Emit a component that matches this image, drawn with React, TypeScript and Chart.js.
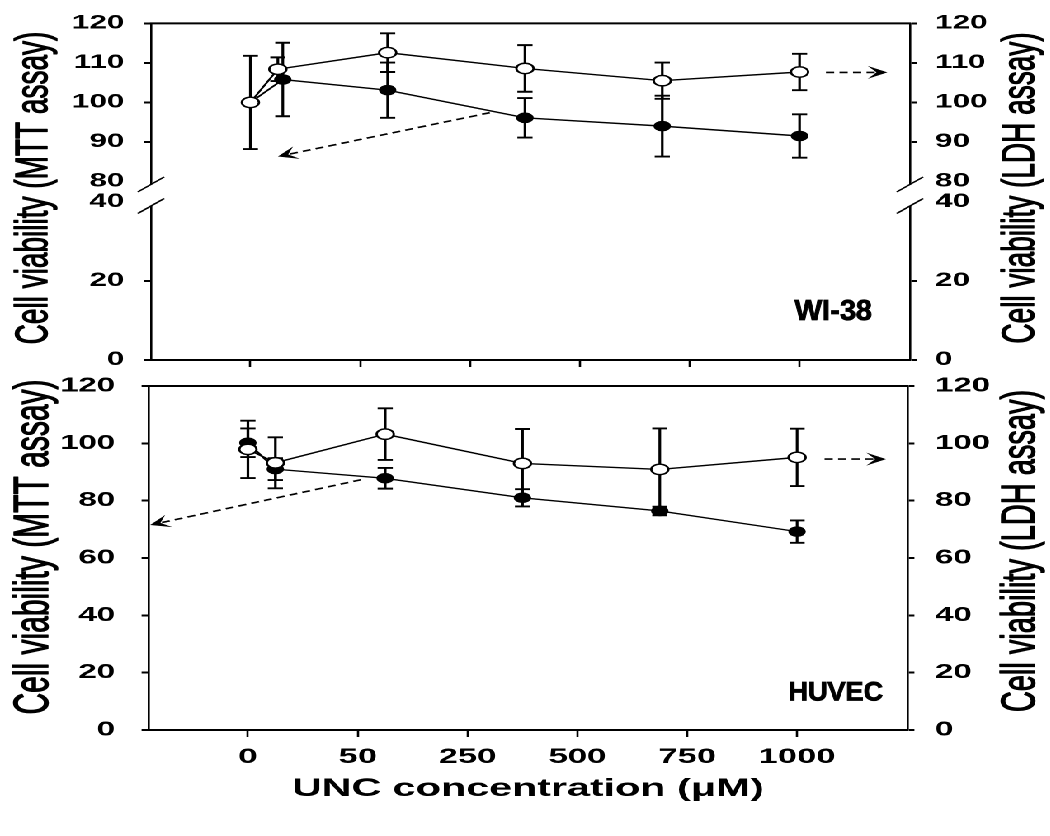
import React, { useEffect, useRef } from 'react';
import { Chart, registerables, LinearScale } from 'chart.js';

Chart.register(...registerables);

// ---------------- data ----------------
const X_TICK_POS = [0, 200, 400, 600, 800, 1000];
const X_TICK_LABELS = ['0', '50', '250', '500', '750', '1000'];
const X_TITLE = 'UNC concentration (μM)';

const CONC = [0, 50, 250, 500, 750, 1000];
const WI38_MTT_X = [0, 59, 250, 500, 750, 1000];

const WI38_LDH = [100, 108.4, 112.6, 108.6, 105.5, 107.7];
const WI38_LDH_ERR = [11.8, 3.0, 4.9, 5.9, 4.6, 4.6];
const WI38_MTT = [100, 105.8, 103.1, 96.1, 94.0, 91.5];
const WI38_MTT_ERR = [0, 9.3, 7.0, 5.0, 7.7, 5.5];

const HUVEC_LDH = [97.9, 93.2, 103.2, 93.0, 90.9, 95.1];
const HUVEC_LDH_ERR = [10.0, 8.9, 9.0, 12.0, 14.3, 10.0];
const HUVEC_MTT = [100.2, 91.0, 87.8, 81.0, 76.4, 69.2];
const HUVEC_MTT_ERR = [5.0, 3.8, 3.6, 3.0, 1.5, 3.9];

const WI38_Y_TICKS = [0, 20, 40, 80, 90, 100, 110, 120];
const HUVEC_Y_TICKS = [0, 20, 40, 60, 80, 100, 120];

const TITLE_MTT = 'Cell viability (MTT assay)';
const TITLE_LDH = 'Cell viability (LDH assay)';
const LABEL_WI38 = 'WI-38';
const LABEL_HUVEC = 'HUVEC';

// arrows in data units: [x, y]
const WI38_ARROWS = [
  { from: [436, 97.4], to: [50, 86.3], axis: 'y' },
  { from: [1048, 107.6], to: [1160, 107.6], axis: 'y2' },
];
const HUVEC_ARROWS = [
  { from: [206, 87.3], to: [-178, 71.5], axis: 'y' },
  { from: [1050, 94.5], to: [1162, 94.5], axis: 'y2' },
];

// ---------------- layout ----------------
const FONT = '"Liberation Sans", Arial, Helvetica, sans-serif';
const S = 1.65; // horizontal stretch of the whole figure
const W0 = 636;
const H = 836;
const X_MIN = -181;
const X_MAX = 1201;

Chart.defaults.font.family = FONT;
Chart.defaults.color = '#000';

// ---------------- broken linear scale ----------------
const BREAK_LOW = 40;
const BREAK_HIGH = 80;
const BREAK_GAP = 0.061;

function brokenDecimal(v: number, min: number, max: number) {
  const span = (BREAK_LOW - min) + (max - BREAK_HIGH);
  const unit = (1 - BREAK_GAP) / span;
  const lowPart = (BREAK_LOW - min) * unit;
  if (v <= BREAK_LOW) return (v - min) * unit;
  if (v >= BREAK_HIGH) return lowPart + BREAK_GAP + (v - BREAK_HIGH) * unit;
  return lowPart + ((v - BREAK_LOW) / (BREAK_HIGH - BREAK_LOW)) * BREAK_GAP;
}
function brokenValue(d: number, min: number, max: number) {
  const span = (BREAK_LOW - min) + (max - BREAK_HIGH);
  const unit = (1 - BREAK_GAP) / span;
  const lowPart = (BREAK_LOW - min) * unit;
  if (d <= lowPart) return min + d / unit;
  if (d >= lowPart + BREAK_GAP) return BREAK_HIGH + (d - lowPart - BREAK_GAP) / unit;
  return BREAK_LOW + ((d - lowPart) / BREAK_GAP) * (BREAK_HIGH - BREAK_LOW);
}

class BrokenLinearScale extends (LinearScale as any) {
  static id = 'brokenLinear';
  getPixelForValue(value: any) {
    if (value === null || value === undefined || Number.isNaN(+value)) return NaN;
    return (this as any).getPixelForDecimal(brokenDecimal(+value, (this as any).min, (this as any).max));
  }
  getValueForPixel(pixel: number) {
    return brokenValue((this as any).getDecimalForPixel(pixel), (this as any).min, (this as any).max);
  }
}
Chart.register(BrokenLinearScale as any);

// ---------------- helpers ----------------
function drawArrow(ctx: CanvasRenderingContext2D, x1: number, y1: number, x2: number, y2: number) {
  const L = 12, W = 6.5;
  const ang = Math.atan2(y2 - y1, x2 - x1);
  const ux = Math.cos(ang), uy = Math.sin(ang);
  const nx = -uy, ny = ux;
  ctx.save();
  ctx.strokeStyle = '#000';
  ctx.lineWidth = 1.6;
  ctx.setLineDash([5, 3.2]);
  ctx.beginPath();
  ctx.moveTo(x1, y1);
  ctx.lineTo(x2 - ux * L * 0.6, y2 - uy * L * 0.6);
  ctx.stroke();
  ctx.setLineDash([]);
  ctx.fillStyle = '#000';
  ctx.beginPath();
  ctx.moveTo(x2, y2);
  ctx.lineTo(x2 - ux * L + nx * W, y2 - uy * L + ny * W);
  ctx.lineTo(x2 - ux * L * 0.55, y2 - uy * L * 0.55);
  ctx.lineTo(x2 - ux * L - nx * W, y2 - uy * L - ny * W);
  ctx.closePath();
  ctx.fill();
  ctx.restore();
}

function makeDecor(cfg: any) {
  return {
    id: 'decor_' + cfg.name,
    beforeDatasetsDraw(chart: any) {
      const ctx = chart.ctx;
      const xs = chart.scales.x;
      chart.data.datasets.forEach((ds: any) => {
        if (!ds.errorBars) return;
        const ys = chart.scales[ds.yAxisID];
        ds.data.forEach((p: any, j: number) => {
          const e = ds.errorBars[j];
          if (!e) return;
          const px = xs.getPixelForValue(p.x);
          const yt = ys.getPixelForValue(p.y + e);
          const yb = ys.getPixelForValue(p.y - e);
          const cap = 4.6;
          ctx.save();
          ctx.strokeStyle = '#000';
          ctx.lineWidth = 1.6;
          ctx.beginPath();
          ctx.moveTo(px, yt);
          ctx.lineTo(px, yb);
          ctx.stroke();
          ctx.lineWidth = 1.9;
          ctx.beginPath();
          ctx.moveTo(px - cap, yt);
          ctx.lineTo(px + cap, yt);
          ctx.moveTo(px - cap, yb);
          ctx.lineTo(px + cap, yb);
          ctx.stroke();
          ctx.restore();
        });
      });
    },
    afterDatasetsDraw(chart: any) {
      const ctx = chart.ctx;
      const xs = chart.scales.x;
      cfg.arrows.forEach((a: any) => {
        const ys = chart.scales[a.axis];
        drawArrow(
          ctx,
          xs.getPixelForValue(a.from[0]), ys.getPixelForValue(a.from[1]),
          xs.getPixelForValue(a.to[0]), ys.getPixelForValue(a.to[1])
        );
      });
    },
    afterDraw(chart: any) {
      const ctx = chart.ctx;
      const { left, right, top } = chart.chartArea;
      ctx.save();
      // top frame line
      ctx.strokeStyle = '#000';
      ctx.lineWidth = 2;
      ctx.beginPath();
      ctx.moveTo(left - 0.65, top);
      ctx.lineTo(right + 0.65, top);
      ctx.stroke();

      // axis break marks
      if (cfg.broken) {
        const yl = chart.scales.y;
        const p80 = yl.getPixelForValue(BREAK_HIGH);
        const p40 = yl.getPixelForValue(BREAK_LOW);
        const s1 = p80 + 3, s2 = p40 + 4;
        [left, right].forEach((ax: number) => {
          ctx.fillStyle = '#fff';
          ctx.fillRect(ax - 2, s1, 4, s2 - s1);
          ctx.strokeStyle = '#000';
          ctx.lineWidth = 1.3;
          ctx.beginPath();
          [s1, s2].forEach((s) => {
            ctx.moveTo(ax - 8, s + 7.5);
            ctx.lineTo(ax + 8, s - 7.5);
          });
          ctx.stroke();
        });
      }

      // rotated y titles (both read bottom-to-top)
      ctx.fillStyle = '#000';
      ctx.strokeStyle = '#000';
      ctx.textAlign = 'center';
      ctx.textBaseline = 'middle';
      const drawV = (text: string, x: number, y: number, size: number) => {
        ctx.save();
        ctx.font = `${size}px ${FONT}`;
        ctx.translate(x, y);
        ctx.rotate(-Math.PI / 2);
        ctx.fillText(text, 0, 0);
        ctx.lineWidth = 0.8;
        ctx.lineJoin = 'round';
        ctx.strokeText(text, 0, 0);
        ctx.restore();
      };
      drawV(cfg.titleLeft, 20.9, cfg.titleYL, cfg.titleSizeL);
      drawV(cfg.titleRight, 618.8, cfg.titleYR, cfg.titleSizeR);

      // panel label (drawn un-stretched)
      ctx.save();
      ctx.font = `bold ${cfg.panelSize}px ${FONT}`;
      ctx.textAlign = 'right';
      ctx.textBaseline = 'middle';
      ctx.translate(cfg.panelX, cfg.panelY);
      ctx.scale(1 / S, 1);
      ctx.fillText(cfg.panelLabel, 0, 0);
      ctx.lineWidth = 0.8;
      ctx.strokeText(cfg.panelLabel, 0, 0);
      ctx.restore();
      ctx.restore();
    },
  };
}

function xScale(showLabels: boolean, height: number) {
  return {
    type: 'linear',
    position: 'bottom',
    min: X_MIN,
    max: X_MAX,
    bounds: 'data',
    afterBuildTicks: (s: any) => { s.ticks = X_TICK_POS.map((v) => ({ value: v })); },
    afterFit: (s: any) => { s.height = height; },
    grid: { display: true, drawOnChartArea: false, drawTicks: true, tickLength: 7, tickWidth: 1.3, tickColor: '#000' },
    border: { display: true, color: '#000', width: 2 },
    ticks: {
      display: showLabels,
      autoSkip: false,
      maxRotation: 0,
      padding: 7.4,
      color: '#000',
      font: { family: FONT, size: 21, weight: 'bold' },
      callback: (v: any) => {
        const i = X_TICK_POS.indexOf(Number(v));
        return i >= 0 ? X_TICK_LABELS[i] : '';
      },
    },
    title: showLabels
      ? { display: true, text: X_TITLE, color: '#000', font: { family: FONT, size: 25, weight: 'bold' }, padding: { top: 0, bottom: 32 } }
      : { display: false },
  };
}

function yScale(type: string, position: string, width: number, padding: number, size: number, tickVals: number[], hideTicks: number[]) {
  return {
    type,
    position,
    min: 0,
    max: 120,
    bounds: 'data',
    afterBuildTicks: (s: any) => { s.ticks = tickVals.map((v) => ({ value: v })); },
    afterFit: (s: any) => { s.width = width; },
    grid: {
      display: true,
      drawOnChartArea: false,
      drawTicks: true,
      tickLength: 4.2,
      tickWidth: 2,
      tickColor: (c: any) => (c.tick && hideTicks.indexOf(c.tick.value) >= 0 ? 'rgba(0,0,0,0)' : '#000'),
    },
    border: { display: true, color: '#000', width: 1.3 },
    ticks: {
      autoSkip: false,
      padding,
      color: '#000',
      font: { family: FONT, size, weight: 'bold' },
      callback: (v: any) => String(v),
    },
  };
}

const openStyle = {
  borderColor: '#000',
  borderWidth: 1.4,
  backgroundColor: '#fff',
  pointRadius: 5.2,
  pointBorderWidth: 1.4,
  pointBackgroundColor: '#fff',
  pointBorderColor: '#000',
  tension: 0,
  fill: false,
};
const filledStyle = {
  borderColor: '#000',
  borderWidth: 1.4,
  backgroundColor: '#000',
  pointRadius: 4.8,
  pointBorderWidth: 1,
  pointBackgroundColor: '#000',
  pointBorderColor: '#000',
  tension: 0,
  fill: false,
};

function baseOptions(padding: any, scales: any) {
  return {
    animation: false,
    responsive: false,
    devicePixelRatio: 2,
    events: [],
    layout: { padding },
    plugins: { legend: { display: false }, tooltip: { enabled: false }, title: { display: false } },
    scales,
  };
}

function topConfig(): any {
  return {
    type: 'line',
    data: {
      datasets: [
        { label: 'LDH assay', data: CONC.map((x, i) => ({ x, y: WI38_LDH[i] })), yAxisID: 'y2', errorBars: WI38_LDH_ERR, ...openStyle },
        { label: 'MTT assay', data: WI38_MTT_X.map((x, i) => ({ x, y: WI38_MTT[i] })), yAxisID: 'y', errorBars: WI38_MTT_ERR, ...filledStyle },
      ],
    },
    options: baseOptions(
      { top: 16, bottom: H - 372, left: 0, right: 0 },
      {
        x: xScale(false, 12),
        y: yScale('brokenLinear', 'left', 91.5, 12, 19, WI38_Y_TICKS, [BREAK_LOW, BREAK_HIGH]),
        y2: yScale('brokenLinear', 'right', W0 - 551.5, 11, 19, WI38_Y_TICKS, [BREAK_LOW, BREAK_HIGH]),
      }
    ),
    plugins: [
      makeDecor({
        name: 'wi38',
        broken: true,
        arrows: WI38_ARROWS,
        titleLeft: TITLE_MTT,
        titleRight: TITLE_LDH,
        titleSizeL: 28,
        titleSizeR: 28,
        titleYL: 188,
        titleYR: 188,
        panelLabel: LABEL_WI38,
        panelX: 528.5,
        panelY: 312,
        panelSize: 29,
      }),
    ],
  };
}

function bottomConfig(): any {
  return {
    type: 'line',
    data: {
      datasets: [
        { label: 'LDH assay', data: CONC.map((x, i) => ({ x, y: HUVEC_LDH[i] })), yAxisID: 'y2', errorBars: HUVEC_LDH_ERR, ...openStyle },
        { label: 'MTT assay', data: CONC.map((x, i) => ({ x, y: HUVEC_MTT[i] })), yAxisID: 'y', errorBars: HUVEC_MTT_ERR, ...filledStyle },
      ],
    },
    options: baseOptions(
      { top: 386, bottom: 0, left: 0, right: 0 },
      {
        x: xScale(true, H - 730),
        y: yScale('linear', 'left', 90, 16, 20, HUVEC_Y_TICKS, []),
        y2: yScale('linear', 'right', W0 - 550, 12.5, 20, HUVEC_Y_TICKS, []),
      }
    ),
    plugins: [
      makeDecor({
        name: 'huvec',
        broken: false,
        arrows: HUVEC_ARROWS,
        titleLeft: TITLE_MTT,
        titleRight: TITLE_LDH,
        titleSizeL: 30,
        titleSizeR: 29,
        titleYL: 547,
        titleYR: 551,
        panelLabel: LABEL_HUVEC,
        panelX: 535.2,
        panelY: 693,
        panelSize: 27,
      }),
    ],
  };
}

export default function App() {
  const topRef = useRef<HTMLCanvasElement>(null);
  const botRef = useRef<HTMLCanvasElement>(null);

  useEffect(() => {
    const c2 = new Chart(botRef.current as HTMLCanvasElement, bottomConfig());
    const c1 = new Chart(topRef.current as HTMLCanvasElement, topConfig());
    return () => {
      c1.destroy();
      c2.destroy();
    };
  }, []);

  const canvasStyle: React.CSSProperties = { position: 'absolute', left: 0, top: 0, width: W0, height: H, display: 'block' };

  return (
    <div style={{ position: 'fixed', left: 0, top: 0, width: 1050, height: H, overflow: 'hidden', background: '#fff' }}>
      <div
        style={{
          position: 'absolute',
          left: 0,
          top: 0,
          width: W0,
          height: H,
          transform: `scaleX(${S})`,
          transformOrigin: '0 0',
        }}
      >
        <canvas ref={botRef} width={W0} height={H} style={canvasStyle} />
        <canvas ref={topRef} width={W0} height={H} style={canvasStyle} />
      </div>
    </div>
  );
}
